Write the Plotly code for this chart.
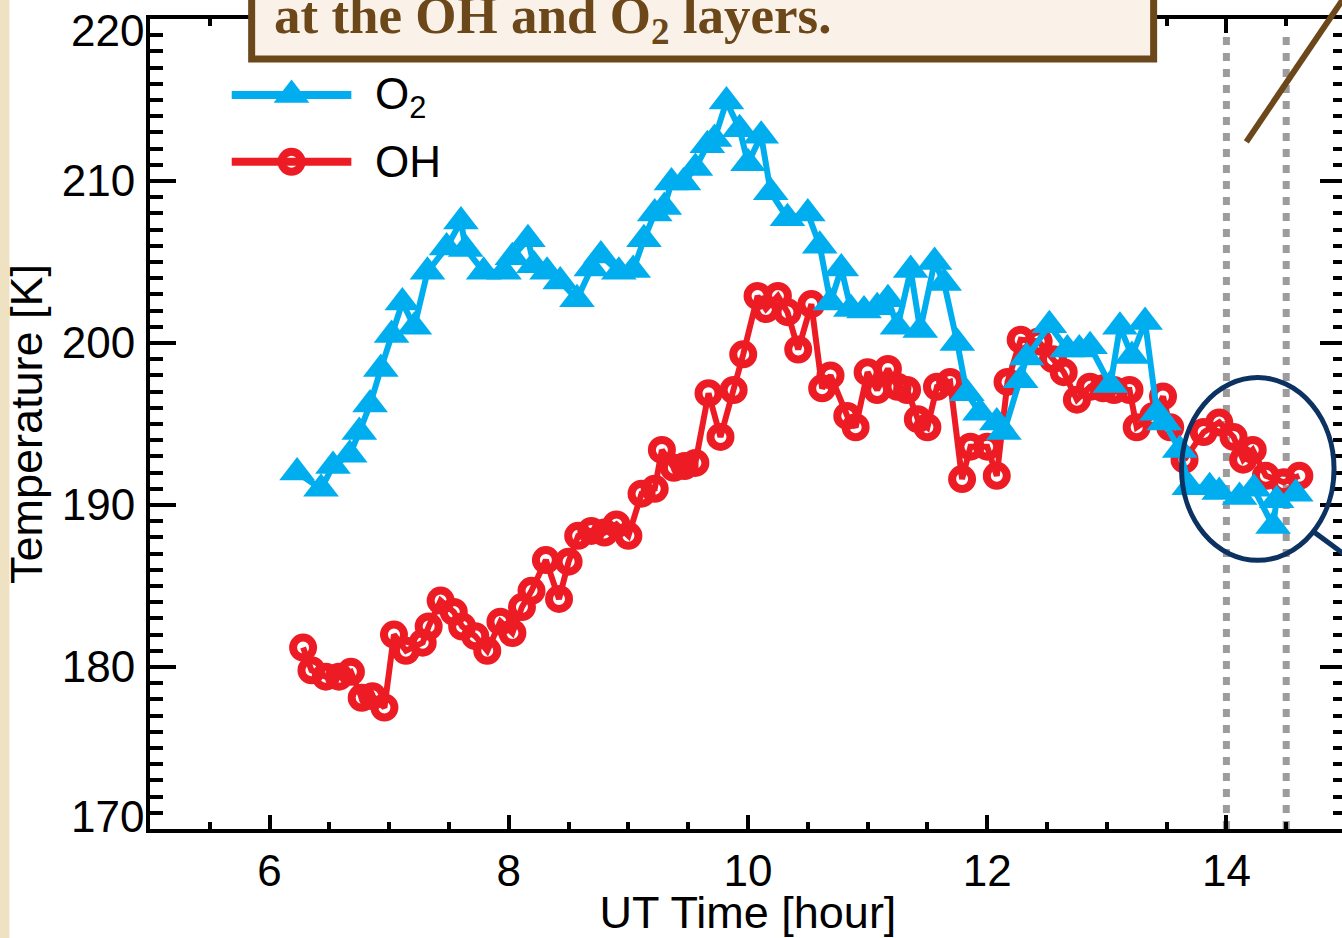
import plotly.graph_objects as go

# O2 layer rotational temperature (UT hour, Kelvin)
o2_time = [6.23, 6.43, 6.53, 6.67, 6.75, 6.84, 6.93, 7.02, 7.11, 7.21,
           7.32, 7.48, 7.60, 7.64, 7.79, 7.96, 8.03, 8.16, 8.21, 8.32,
           8.43, 8.57, 8.69, 8.77, 8.92, 9.04, 9.13, 9.22, 9.30, 9.36,
           9.46, 9.56, 9.66, 9.72, 9.82, 9.93, 10.00, 10.11, 10.19, 10.33,
           10.50, 10.60, 10.69, 10.78, 10.86, 10.97, 11.08, 11.17, 11.25, 11.36,
           11.44, 11.56, 11.64, 11.75, 11.83, 11.94, 12.08, 12.14, 12.28, 12.33,
           12.52, 12.67, 12.77, 12.86, 13.03, 13.11, 13.21, 13.32, 13.42, 13.48,
           13.61, 13.69, 13.86, 13.94, 14.11, 14.23, 14.39, 14.42, 14.58]
o2_temp = [192.0, 191.0, 192.4, 193.1, 194.5, 196.2, 198.4, 200.5, 202.5, 201.0,
           204.4, 205.9, 207.5, 205.8, 204.4, 204.4, 205.3, 206.4, 204.8, 204.4,
           203.8, 202.7, 204.6, 205.4, 204.4, 204.5, 206.4, 208.0, 208.4, 209.9,
           209.9, 210.8, 212.2, 212.6, 214.9, 213.2, 211.1, 212.8, 209.3, 207.7,
           208.0, 206.0, 202.5, 204.6, 202.1, 202.0, 202.2, 202.7, 201.0, 204.5,
           200.8, 205.0, 203.7, 200.0, 196.9, 195.7, 195.1, 194.5, 197.7, 199.1,
           201.1, 199.6, 199.6, 199.8, 197.4, 201.0, 199.2, 201.3, 195.7, 195.1,
           193.4, 191.1, 191.1, 190.8, 190.5, 191.0, 188.7, 190.3, 190.7]

# OH layer rotational temperature (UT hour, Kelvin)
oh_time = [6.28, 6.35, 6.47, 6.58, 6.68, 6.77, 6.86, 6.96, 7.04, 7.14,
           7.28, 7.33, 7.43, 7.54, 7.61, 7.72, 7.82, 7.93, 8.03, 8.11,
           8.19, 8.31, 8.42, 8.50, 8.58, 8.69, 8.80, 8.90, 9.00, 9.11,
           9.22, 9.28, 9.38, 9.47, 9.56, 9.67, 9.77, 9.88, 9.96, 10.08,
           10.15, 10.25, 10.33, 10.42, 10.53, 10.62, 10.69, 10.83, 10.90, 11.00,
           11.08, 11.17, 11.25, 11.33, 11.42, 11.50, 11.58, 11.69, 11.79, 11.86,
           12.00, 12.08, 12.17, 12.28, 12.43, 12.55, 12.64, 12.75, 12.86, 12.97,
           13.06, 13.19, 13.25, 13.39, 13.47, 13.53, 13.65, 13.81, 13.94, 14.06,
           14.14, 14.22, 14.33, 14.48, 14.61]
oh_temp = [181.2, 179.8, 179.4, 179.4, 179.7, 178.1, 178.2, 177.5, 182.0, 181.0,
           181.5, 182.5, 184.1, 183.4, 182.5, 181.9, 181.0, 182.8, 182.1, 183.7,
           184.7, 186.6, 184.2, 186.5, 188.1, 188.4, 188.3, 188.8, 188.1, 190.7,
           191.0, 193.4, 192.3, 192.4, 192.6, 196.9, 194.2, 197.1, 199.3, 202.9,
           202.1, 202.9, 201.9, 199.6, 202.4, 197.2, 198.0, 195.5, 194.8, 198.2,
           197.1, 198.4, 197.3, 197.1, 195.3, 194.8, 197.3, 197.6, 191.6, 193.6,
           193.6, 191.8, 197.6, 200.2, 200.1, 199.0, 198.2, 196.5, 197.3, 197.2,
           197.1, 197.1, 194.8, 195.5, 196.7, 194.8, 192.8, 194.5, 195.1, 194.2,
           192.8, 193.4, 191.8, 191.4, 191.8]

x_ticks = [6, 8, 10, 12, 14]
y_ticks = [180, 190, 200, 210]
y_edge_ticks = [170, 220]
marked_hours = [14.0, 14.5]

BLUE = "#00aeef"
RED = "#ed1c24"
BROWN = "#6b4719"
NAVY = "#0c3262"
FONT = "Liberation Sans"

W, H = 1350, 938
L, R, T, B = 150, 1350, 19, 830


def px(x):
    return (x - L) / (R - L)


def py(y):
    return (B - y) / (B - T)


O2_MARKER = dict(symbol="triangle-up", size=31, color=BLUE)
OH_MARKER = dict(symbol="circle-open", size=20, color=RED, line=dict(width=8, color=RED))

fig = go.Figure()

fig.add_trace(go.Scatter(
    x=oh_time, y=oh_temp, mode="lines+markers", name="OH",
    line=dict(color=RED, width=6), marker=OH_MARKER, showlegend=False,
))
fig.add_trace(go.Scatter(
    x=o2_time, y=o2_temp, mode="lines+markers", name="O2",
    line=dict(color=BLUE, width=6), marker=O2_MARKER, showlegend=False,
))

# legend keys drawn on a pixel-space overlay
key_x = [232, 292, 352]
fig.add_trace(go.Scatter(
    x=key_x, y=[95, 95, 95], xaxis="x2", yaxis="y2", mode="lines",
    line=dict(color=BLUE, width=8), showlegend=False, hoverinfo="skip"))
fig.add_trace(go.Scatter(
    x=[292], y=[95], xaxis="x2", yaxis="y2", mode="markers",
    marker=O2_MARKER, showlegend=False, hoverinfo="skip"))
fig.add_trace(go.Scatter(
    x=key_x, y=[162, 162, 162], xaxis="x2", yaxis="y2", mode="lines",
    line=dict(color=RED, width=8), showlegend=False, hoverinfo="skip"))
fig.add_trace(go.Scatter(
    x=[292], y=[162], xaxis="x2", yaxis="y2", mode="markers",
    marker=OH_MARKER, showlegend=False, hoverinfo="skip"))

shapes = []
# parchment strip along the left edge
shapes.append(dict(type="rect", xref="paper", yref="paper",
                   x0=px(-5), x1=px(9), y0=py(945), y1=py(-5),
                   fillcolor="#efe2c3", line=dict(width=0), layer="below"))
# dotted markers for the zoomed interval
for hr in marked_hours:
    shapes.append(dict(type="line", xref="x", yref="y", x0=hr, x1=hr, y0=170, y1=219.0,
                       line=dict(color="#9c9c9c", width=7, dash="8px,8px"), layer="below"))
# highlight ellipse and its leader line
shapes.append(dict(type="circle", xref="paper", yref="paper",
                   x0=px(1185), x1=px(1338), y0=py(561), y1=py(378),
                   line=dict(color=NAVY, width=5)))
shapes.append(dict(type="line", xref="paper", yref="paper",
                   x0=px(1317), y0=py(532), x1=px(1362), y1=py(565),
                   line=dict(color=NAVY, width=5)))
# callout pointer
shapes.append(dict(type="line", xref="paper", yref="paper",
                   x0=px(1250), y0=py(142), x1=px(1356), y1=py(-14),
                   line=dict(color=BROWN, width=6)))
# caption box
shapes.append(dict(type="rect", xref="paper", yref="paper",
                   x0=px(252), x1=px(1157), y0=py(59), y1=py(-30),
                   fillcolor="#faf2e9", line=dict(color=BROWN, width=7)))

annotations = [
    dict(text="<b>at the OH and O<sub>2</sub> layers.</b>", xref="paper", yref="paper",
         x=px(272), y=py(54), xanchor="left", yanchor="bottom", showarrow=False,
         font=dict(family="Liberation Serif", size=53, color=BROWN)),
    dict(text="O<sub>2</sub>", xref="x2", yref="y2", x=374, y=97, xanchor="left",
         yanchor="middle", showarrow=False, font=dict(family=FONT, size=44, color="black")),
    dict(text="OH", xref="x2", yref="y2", x=374, y=162, xanchor="left",
         yanchor="middle", showarrow=False, font=dict(family=FONT, size=44, color="black")),
]
for v, shift in zip(y_edge_ticks, [13, -11]):
    annotations.append(dict(text=str(v), xref="paper", yref="y", x=0, y=v, xshift=-4,
                            yshift=shift, xanchor="right", yanchor="middle", showarrow=False,
                            font=dict(family=FONT, size=44, color="black")))

fig.update_layout(
    width=W, height=H,
    margin=dict(l=L, r=W - R, t=T, b=H - B, pad=0),
    paper_bgcolor="white", plot_bgcolor="white",
    font=dict(family=FONT, size=44, color="black"),
    shapes=shapes, annotations=annotations,
    xaxis=dict(
        range=[5, 15], tickvals=x_ticks, ticks="inside", ticklen=14, tickwidth=4,
        tickcolor="black", showline=True, linewidth=4, linecolor="black", mirror="ticks",
        showgrid=False, zeroline=False, tickfont=dict(size=44),
        minor=dict(dtick=0.5, tick0=0, ticks="inside", ticklen=7, tickwidth=4,
                   tickcolor="black", showgrid=False),
        title=dict(text="UT Time [hour]", font=dict(size=45), standoff=12),
    ),
    yaxis=dict(
        range=[170, 220], tickvals=y_ticks, ticks="inside", ticklen=26, tickwidth=4,
        tickcolor="black", showline=True, linewidth=4, linecolor="black", mirror="ticks",
        showgrid=False, zeroline=False, tickfont=dict(size=44), ticklabelstandoff=2,
        minor=dict(dtick=1, tick0=0, ticks="inside", ticklen=13, tickwidth=4,
                   tickcolor="black", showgrid=False),
        title=dict(text="Temperature [K]", font=dict(size=45), standoff=6),
    ),
    xaxis2=dict(range=[L, R], overlaying="x", visible=False, anchor="y2"),
    yaxis2=dict(range=[B, T], overlaying="y", visible=False, anchor="x2"),
)

fig.write_html(
    "out.html",
    post_script="document.documentElement.style.overflow='hidden';document.body.style.overflow='hidden';",
)
